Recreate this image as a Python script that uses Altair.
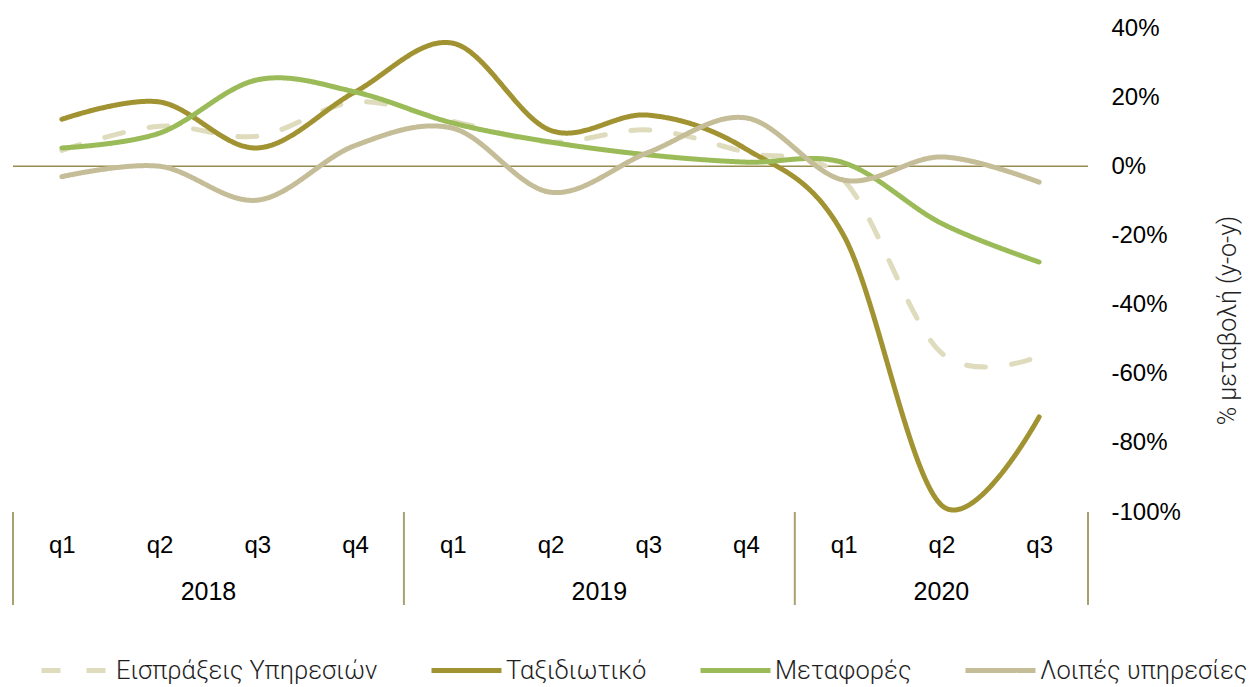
import altair as alt
import pandas as pd

quarters = ["q1", "q2", "q3", "q4", "q1", "q2", "q3", "q4", "q1", "q2", "q3"]
years = ["2018", "2019", "2020"]
quarters_per_year = [4, 4, 3]

series_names = ["Εισπράξεις Υπηρεσιών", "Ταξιδιωτικό", "Μεταφορές", "Λοιπές υπηρεσίες"]
series_colors = ["#dfdbbd", "#a29332", "#9bbb59", "#c4bd97"]

eisprakseis = [4.6, 11.6, 8.7, 18.6, 13.0, 7.0, 10.5, 4.0, -4.0, -54.0, -55.0]
taksidiotiko = [13.6, 18.6, 5.3, 21.5, 35.6, 10.4, 14.8, 5.0, -20.0, -98.0, -72.5]
metafores = [5.3, 9.6, 25.0, 21.5, 12.5, 7.0, 3.3, 1.2, 1.0, -16.5, -27.7]
loipes = [-3.0, 0.0, -9.8, 6.0, 11.0, -7.5, 4.0, 14.0, -4.0, 2.7, -4.6]

y_ticks = [-100, -80, -60, -40, -20, 0, 20, 40]

values = [eisprakseis, taksidiotiko, metafores, loipes]
rows = []
for s, vals in zip(series_names, values):
    for i, v in enumerate(vals):
        rows.append({"i": i, "series": s, "value": v})
df = pd.DataFrame(rows)

# year groups: centres and separators
centres, seps = [], [-0.5]
start = 0
for n in quarters_per_year:
    centres.append(start + (n - 1) / 2)
    start += n
    seps.append(start - 0.5)
years_df = pd.DataFrame({"x": centres, "year": years})
seps_df = pd.DataFrame({"x": seps})

W, H = 1075, 484
num_font = "Liberation Sans"
light_font = "Roboto"

x_scale = alt.Scale(domain=[-0.5, len(quarters) - 0.5], nice=False, zero=False)
y_scale = alt.Scale(domain=[-100, 40], nice=False, zero=False)

legend = alt.Legend(
    title=None,
    orient="none",
    direction="horizontal",
    legendX=26,
    legendY=605,
    symbolType="stroke",
    symbolSize=4900,
    symbolStrokeWidth=5,
    labelFont=light_font,
    labelFontWeight=300,
    labelFontSize=25.5,
    labelColor="#1e1e1e",
    labelOffset=2,
    columnPadding=43,
    labelLimit=400,
    padding=0,
)

lines = alt.Chart(df).mark_line(
    interpolate="cardinal", strokeWidth=5, strokeCap="round"
).encode(
    x=alt.X(
        "i:Q",
        scale=x_scale,
        axis=alt.Axis(
            title=None,
            values=list(range(len(quarters))),
            labelExpr="['" + "','".join(quarters) + "'][datum.value]",
            labelFont=num_font,
            labelFontSize=24,
            labelColor="#000000",
            labelBaseline="middle",
            labelPadding=33,
            ticks=False,
            domain=False,
            grid=False,
        ),
    ),
    y=alt.Y(
        "value:Q",
        scale=y_scale,
        axis=alt.Axis(
            orient="right",
            title="% μεταβολή (y-o-y)",
            titleFont=light_font,
            titleFontWeight=300,
            titleFontSize=25,
            titleColor="#222222",
            titleAngle=270,
            titleX=152,
            titleY=292,
            values=y_ticks,
            labelExpr="datum.value + '%'",
            labelFont=num_font,
            labelFontSize=24,
            labelColor="#000000",
            labelPadding=23,
            labelAlign="left",
            ticks=False,
            domain=False,
            grid=False,
        ),
    ),
    color=alt.Color("series:N", scale=alt.Scale(domain=series_names, range=series_colors), legend=legend),
    strokeDash=alt.StrokeDash(
        "series:N",
        scale=alt.Scale(domain=series_names, range=[[19, 26], [1, 0], [1, 0], [1, 0]]),
        legend=legend,
    ),
    order=alt.Order("series:N"),
)

zero = alt.Chart(pd.DataFrame({"y": [0]})).mark_rule(color="#978b4f", strokeWidth=1.5).encode(
    y=alt.Y("y:Q", scale=y_scale)
)

separators = alt.Chart(seps_df).mark_rule(color="#a9a070", strokeWidth=2).encode(
    x=alt.X("x:Q", scale=x_scale),
    y=alt.value(H),
    y2=alt.value(H + 93),
)

year_text = alt.Chart(years_df).mark_text(
    font=num_font, fontSize=25, color="#000000", baseline="middle"
).encode(
    x=alt.X("x:Q", scale=x_scale),
    y=alt.value(H + 80),
    text="year:N",
)

chart = alt.layer(zero, lines, separators, year_text).properties(
    width=W,
    height=H,
    padding={"left": 4, "top": 8, "right": 0, "bottom": 0},
).configure_view(stroke=None)

chart.save("out.html", embed_options={"renderer": "svg", "actions": False})
